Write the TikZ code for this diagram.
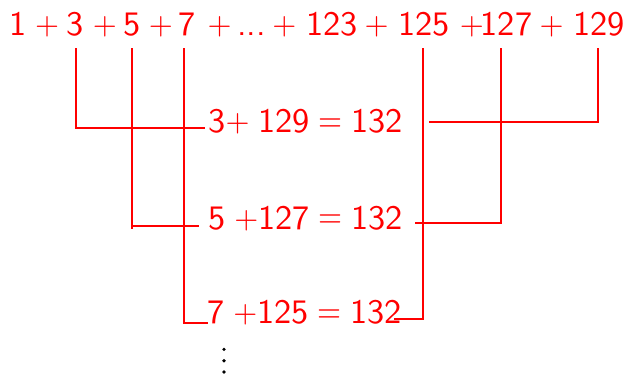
\documentclass[tikz,border=0pt]{standalone}
\usepackage{fontspec}
\usepackage{graphicx}
\newfontfamily\lmsten{lmsans10-regular.otf}
\newcommand\smallplus{\raisebox{0.4pt}{\scalebox{0.9}{+}}}
\newcommand\smalleq{\raisebox{1.2pt}{\scalebox{0.9}[1.0]{=}}}
\begin{document}
\begin{tikzpicture}[x=1pt,y=-1pt,
  every node/.style={text=red, font={\lmsten\fontsize{34.3}{41}\selectfont\spaceskip=8.7pt\relax}},
  topnum/.style={inner sep=0pt, outer xsep=0pt, outer ysep=12.7pt, anchor=base, text depth=0pt},
  eqn/.style={inner sep=0pt, outer sep=0pt, anchor=base west},
  link/.style={draw=red, line width=2pt}]
\useasboundingbox (0,0) rectangle (627,375);
% top row
\foreach \x/\t/\n in {18.3/1/n1, 75.5/3/n3, 132.5/5/n5, 187.5/7/n7, 332/123/n123, 424/125/n125, 506.5/127/n127, 599/129/n129}
  \node[topnum] (\n) at (\x,35.3) {\t};
\foreach \x/\n in {47.2/pa, 105/pb, 161/pc, 219.7/pd, 284.3/pe, 376.7/pf, 471.8/pg, 551.7/ph}
  \node[topnum] (\n) at (\x,35.3) {\smallplus};
\node[topnum] (dots) at (251.7,35.3) {...};
% equations
\node[eqn] (e1) at (208.5,132.3) {3\smallplus{} 129 \smalleq{} 132};
\node[eqn] (e2) at (208.5,229) {5 \smallplus127 \smalleq{} 132};
\node[eqn] (e3) at (207.5,323.3) {7 \smallplus125 \smalleq{} 132};
% connectors
\draw[link] ([xshift=0.5pt]n3.south) |- ([shift={(-3.5pt,4.3pt)}]e1.base west);
\draw[link] ([xshift=-1.3pt]n129.south) |- ([shift={(26pt,10pt)}]e1.base east);
\draw[link] ([xshift=-0.2pt]n5.south) |- ([shift={(-9.5pt,3.3pt)}]e2.base west);
\draw[link] ([xshift=-0.2pt]n5.south) -- ([xshift=-0.2pt]n5.south |- e2.base);
\draw[link] ([xshift=-5.8pt]n127.south) |- ([shift={(12.7pt,5.7pt)}]e2.base east);
\draw[link] ([xshift=-3.2pt]n7.south) |- ([shift={(0.8pt,0.6pt)}]e3.base west);
\draw[link] ([xshift=-0.7pt]n125.south) |- ([shift={(-8pt,4.3pt)}]e3.base east);
% vertical dots
\fill[black] (224,349.3) circle (1.8) (224,360.7) circle (1.8) (224,372) circle (1.8);
\end{tikzpicture}
\end{document}
